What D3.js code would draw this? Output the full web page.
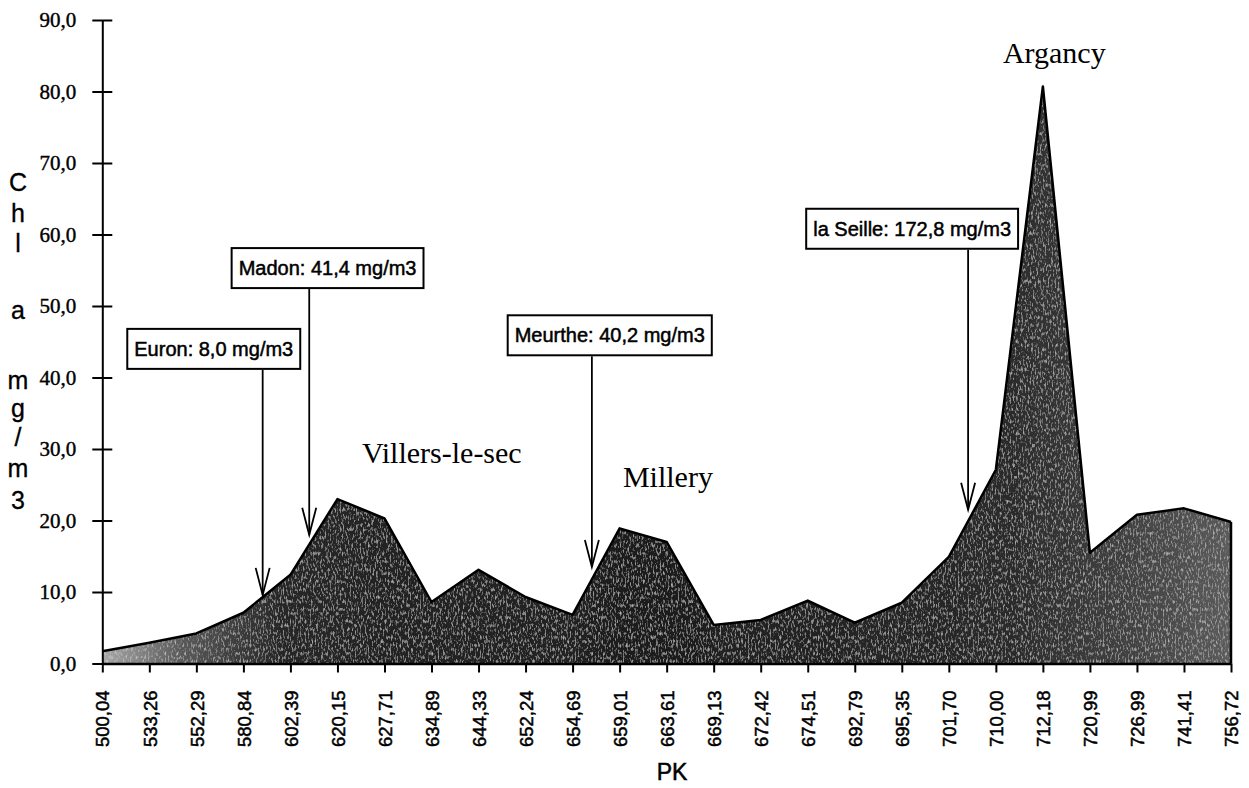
<!DOCTYPE html>
<html>
<head>
<meta charset="utf-8">
<script src="https://cdn.jsdelivr.net/npm/d3@7"></script>
<style>
  body { margin: 0; background: #fff; }
  svg { display: block; }
</style>
</head>
<body>
<div id="chart"></div>
<script>
// PK stations along the river (category axis)
const pkLabels = ["500,04","533,26","552,29","580,84","602,39","620,15","627,71","634,89","644,33","652,24","654,69","659,01","663,61","669,13","672,42","674,51","692,79","695,35","701,70","710,00","712,18","720,99","726,99","741,41","756,72"]
// chlorophyll a, mg/m3
const chl = [1.7, 2.9, 4.2, 7.1, 12.4, 23.0, 20.3, 8.6, 13.1, 9.3, 6.8, 18.9, 17.0, 5.4, 6.1, 8.8, 5.7, 8.5, 14.9, 27.1, 80.7, 15.5, 20.8, 21.7, 19.8]
const yTicks = [0, 10, 20, 30, 40, 50, 60, 70, 80, 90]

// tributary call-outs (positions in station index / chl units)
const annotText = ["Euron: 8,0 mg/m3", "Madon: 41,4 mg/m3", "Meurthe: 40,2 mg/m3", "la Seille: 172,8 mg/m3"]
const annotBoxX = [2.37, 4.79, 10.79, 17.22]
const annotBoxTop = [46.8, 58.1, 48.7, 63.6]
const annotArrowX = [3.41, 4.40, 10.41, 18.41]
const annotArrowTip = [9.6, 18.0, 13.5, 21.5]

// place names
const placeNames = ["Villers-le-sec", "Millery", "Argancy"]
const placeX = [5.52, 11.07, 19.15]
const placeY = [28.0, 24.7, 84.0]

const yTitle = ["C", "h", "l", "a", "m", "g", "/", "m", "3"]
const yTitlePos = [182, 213, 243, 310, 380, 408, 437, 468, 500]

const width = 1249
const height = 788
const margin = { top: 20, right: 18, bottom: 124.5, left: 102.3 }

const svg = d3.select("#chart").append("svg")
  .attr("width", width)
  .attr("height", height)

const x = d3.scalePoint()
  .domain(pkLabels)
  .range([margin.left, width - margin.right])

const xi = d3.scaleLinear()
  .domain([0, pkLabels.length - 1])
  .range([margin.left, width - margin.right])

const y = d3.scaleLinear()
  .domain([0, 90])
  .range([height - margin.bottom, margin.top])

// area fill, lighter at both ends like the scan
const defs = svg.append("defs")
const grad = defs.append("linearGradient").attr("id", "fillGrad")
  .attr("x1", "0%").attr("x2", "100%").attr("y1", "0%").attr("y2", "0%")
grad.selectAll("stop")
  .data([[0, "#a8a8a8"], [0.07, "#5a5a5a"], [0.16, "#262626"], [0.5, "#1e1e1e"], [0.8, "#2a2a2a"], [0.92, "#444"], [1, "#5c5c5c"]])
  .enter().append("stop")
  .attr("offset", d => d[0])
  .attr("stop-color", d => d[1])

const filt = defs.append("filter").attr("id", "grain")
  .attr("x", 0).attr("y", 0).attr("width", 1).attr("height", 1)
filt.append("feTurbulence")
  .attr("type", "fractalNoise")
  .attr("baseFrequency", "0.6 0.25")
  .attr("numOctaves", 2)
  .attr("seed", 3)
  .attr("result", "noise")
filt.append("feColorMatrix")
  .attr("in", "noise")
  .attr("type", "matrix")
  .attr("values", "0 0 0 0 0.85  0 0 0 0 0.85  0 0 0 0 0.85  1.4 0 0 0 -0.72")
  .attr("result", "specks")
filt.append("feComposite")
  .attr("in", "specks").attr("in2", "SourceGraphic").attr("operator", "in")
  .attr("result", "specksIn")
filt.append("feMerge").selectAll("feMergeNode")
  .data(["SourceGraphic", "specksIn"])
  .enter().append("feMergeNode").attr("in", d => d)

const series = pkLabels.map((k, i) => ({ k, v: chl[i] }))

const area = d3.area()
  .x(d => x(d.k))
  .y0(y(0))
  .y1(d => y(d.v))

svg.append("path")
  .datum(series)
  .attr("d", area)
  .attr("fill", "url(#fillGrad)")
  .attr("filter", "url(#grain)")

svg.append("path")
  .datum(series)
  .attr("d", d3.line().x(d => x(d.k)).y(d => y(d.v)))
  .attr("fill", "none")
  .attr("stroke", "#000")
  .attr("stroke-width", 2.5)
  .attr("stroke-linejoin", "round")

// right edge of the area
svg.append("line")
  .attr("x1", x(pkLabels[pkLabels.length - 1]))
  .attr("x2", x(pkLabels[pkLabels.length - 1]))
  .attr("y1", y(chl[chl.length - 1]))
  .attr("y2", y(0))
  .attr("stroke", "#000")
  .attr("stroke-width", 2.5)

// y axis
const fmt = d => d3.format(".1f")(d).replace(".", ",")
const yAxis = svg.append("g")
  .attr("transform", `translate(${margin.left},0)`)
  .call(d3.axisLeft(y).tickValues(yTicks).tickFormat(fmt).tickSize(10).tickSizeOuter(0).tickPadding(16))
yAxis.select(".domain").attr("stroke-width", 2)
yAxis.selectAll(".tick line").attr("x1", 10).attr("stroke-width", 2)
yAxis.selectAll("text")
  .attr("font-family", "'Liberation Serif', 'Times New Roman', serif")
  .attr("font-size", 21)
  .attr("fill", "#000")
  .attr("stroke", "#000")
  .attr("stroke-width", 0.4)

// x axis
const xAxis = svg.append("g")
  .attr("transform", `translate(0,${y(0)})`)
  .call(d3.axisBottom(x).tickSize(9).tickSizeOuter(0))
xAxis.select(".domain").attr("stroke-width", 2.5)
xAxis.selectAll(".tick line").attr("stroke-width", 2)
xAxis.selectAll("text")
  .attr("font-family", "'Liberation Sans', Arial, sans-serif")
  .attr("font-size", 18.5)
  .attr("fill", "#000")
  .attr("stroke", "#000")
  .attr("stroke-width", 0.5)
  .attr("transform", "rotate(-90)")
  .attr("x", -27)
  .attr("y", 0)
  .attr("dy", "0.36em")
  .style("text-anchor", "end")

svg.append("text")
  .attr("x", 672)
  .attr("y", 780)
  .attr("text-anchor", "middle")
  .attr("font-family", "'Liberation Sans', Arial, sans-serif")
  .attr("font-size", 23)
  .attr("stroke", "#000")
  .attr("stroke-width", 0.5)
  .text("PK")

// vertical y title, one letter per line
svg.append("g")
  .selectAll("text")
  .data(yTitle)
  .enter().append("text")
  .attr("x", 18)
  .attr("y", (d, i) => yTitlePos[i])
  .attr("dy", "0.35em")
  .attr("text-anchor", "middle")
  .attr("font-family", "'Liberation Sans', Arial, sans-serif")
  .attr("font-size", 25)
  .attr("stroke", "#000")
  .attr("stroke-width", 0.3)
  .text(d => d)

// place names
svg.append("g")
  .selectAll("text")
  .data(placeNames)
  .enter().append("text")
  .attr("x", (d, i) => xi(placeX[i]))
  .attr("y", (d, i) => y(placeY[i]))
  .attr("font-family", "'Liberation Serif', 'Times New Roman', serif")
  .attr("font-size", 30)
  .text(d => d)

// tributary boxes with arrows
const ann = svg.append("g")
annotText.forEach((t, i) => {
  const g = ann.append("g")
  const label = g.append("text")
    .attr("x", xi(annotBoxX[i]))
    .attr("y", y(annotBoxTop[i]) + 20)
    .attr("dy", "0.36em")
    .attr("text-anchor", "middle")
    .attr("font-family", "'Liberation Sans', Arial, sans-serif")
    .attr("font-size", 20)
    .attr("stroke", "#000")
    .attr("stroke-width", 0.5)
    .text(t)
  const bb = label.node().getBBox()
  g.insert("rect", "text")
    .attr("x", bb.x - 7)
    .attr("y", y(annotBoxTop[i]))
    .attr("width", bb.width + 14)
    .attr("height", 40)
    .attr("fill", "#fff")
    .attr("stroke", "#000")
    .attr("stroke-width", 2)

  const ax = xi(annotArrowX[i])
  const tipY = y(annotArrowTip[i])
  g.append("line")
    .attr("x1", ax).attr("x2", ax)
    .attr("y1", y(annotBoxTop[i]) + 41)
    .attr("y2", tipY)
    .attr("stroke", "#000")
    .attr("stroke-width", 1.8)
  g.append("path")
    .attr("d", `M${ax - 7},${tipY - 27}L${ax},${tipY}L${ax + 7},${tipY - 27}`)
    .attr("fill", "none")
    .attr("stroke", "#000")
    .attr("stroke-width", 1.8)
})
</script>
</body>
</html>
